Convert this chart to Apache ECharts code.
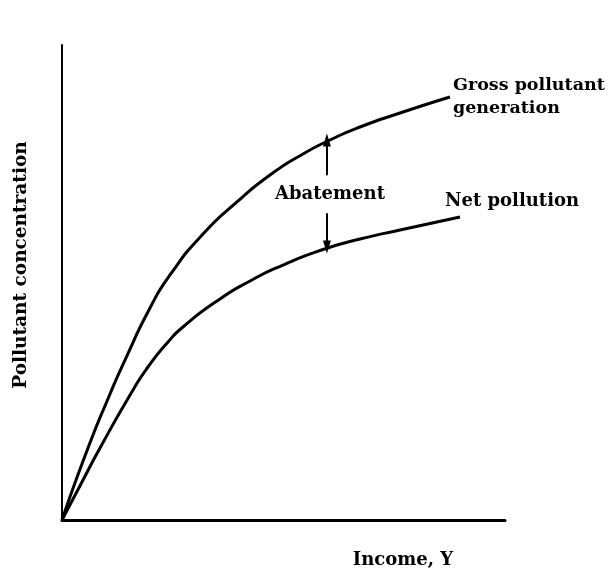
<!DOCTYPE html>
<html>
<head>
<meta charset="utf-8">
<script src="https://cdn.jsdelivr.net/npm/echarts@6/dist/echarts.min.js"></script>
<style>html,body{margin:0;padding:0;background:#fff}#c{width:609px;height:574px}</style>
</head>
<body>
<div id="c"></div>
<script>
// Income (x) and pollutant concentration (y) (arbitrary units 0-100)
const grossX = [0, 5.87, 10.84, 14.22, 19.86, 24.38, 31.83, 39.50, 46.95, 54.40, 60.50, 67.27, 76.30, 87.58];
const grossY = [0, 15.16, 26.53, 33.68, 44.63, 51.58, 60.21, 66.95, 72.63, 77.05, 80.00, 82.74, 85.68, 89.05];
const netX = [0, 4.51, 8.58, 16.03, 19.41, 23.93, 27.31, 34.99, 42.44, 49.89, 58.92, 67.27, 76.30, 89.84];
const netY = [0, 8.00, 15.16, 27.37, 32.21, 37.47, 40.63, 46.11, 50.32, 53.68, 56.95, 59.16, 61.05, 63.79];
// Abatement arrows: [x, yFrom, yTo]
const arrowUp = [59.8, 72.6, 80.0];
const arrowDown = [59.8, 64.6, 57.5];
// Texts
const xName = 'Income, Y';
const yName = 'Pollutant concentration';
const grossLabel = 'Gross pollutant\ngeneration';
const netLabel = 'Net pollution';
const gapLabel = 'Abatement';

const FONT = 'DejaVu Serif';
const zip = (xs, ys) => xs.map((x, i) => [x, ys[i]]);
const txt = (extra) => Object.assign({ fontFamily: FONT, fontSize: 18, fontWeight: 'bold', fill: '#000' }, extra);

const chart = echarts.init(document.getElementById('c'));
chart.setOption({
  animation: false,
  backgroundColor: '#fff',
  grid: { left: 62, top: 45, right: 104, bottom: 54, containLabel: false, outerBoundsMode: 'none' },
  xAxis: {
    type: 'value', min: 0, max: 100,
    axisLine: { show: true, lineStyle: { color: '#000', width: 3 } },
    axisTick: { show: false }, axisLabel: { show: false }, splitLine: { show: false }
  },
  yAxis: {
    type: 'value', min: 0, max: 100,
    axisLine: { show: true, lineStyle: { color: '#000', width: 2 } },
    axisTick: { show: false }, axisLabel: { show: false }, splitLine: { show: false }
  },
  series: [
    {
      type: 'line', name: 'Gross pollutant generation', smooth: 0.6, symbol: 'none',
      data: zip(grossX, grossY), lineStyle: { color: '#000', width: 3 },
      markLine: {
        silent: true, symbol: ['none', 'triangle'], symbolSize: [8, 13],
        lineStyle: { color: '#000', width: 2, type: 'solid' }, label: { show: false },
        data: [
          [{ coord: [arrowUp[0], arrowUp[1]] }, { coord: [arrowUp[0], arrowUp[2]] }],
          [{ coord: [arrowDown[0], arrowDown[1]] }, { coord: [arrowDown[0], arrowDown[2]] }]
        ]
      }
    },
    {
      type: 'line', name: 'Net pollution', smooth: 0.6, symbol: 'none',
      data: zip(netX, netY), lineStyle: { color: '#000', width: 3 }
    }
  ],
  graphic: [
    { type: 'text', x: 453, y: 74, style: txt({ text: grossLabel, lineHeight: 23, verticalAlign: 'top', fontSize: 17.5 }) },
    { type: 'text', x: 445, y: 201, style: txt({ text: netLabel, verticalAlign: 'middle' }) },
    { type: 'text', x: 330, y: 194, style: txt({ text: gapLabel, align: 'center', verticalAlign: 'middle' }) },
    { type: 'text', x: 403, y: 560, style: txt({ text: xName, align: 'center', verticalAlign: 'middle' }) },
    { type: 'text', x: 21, y: 265, rotation: Math.PI / 2, style: txt({ text: yName, align: 'center', verticalAlign: 'middle', fontSize: 18.5 }) }
  ]
});
</script>
</body>
</html>
